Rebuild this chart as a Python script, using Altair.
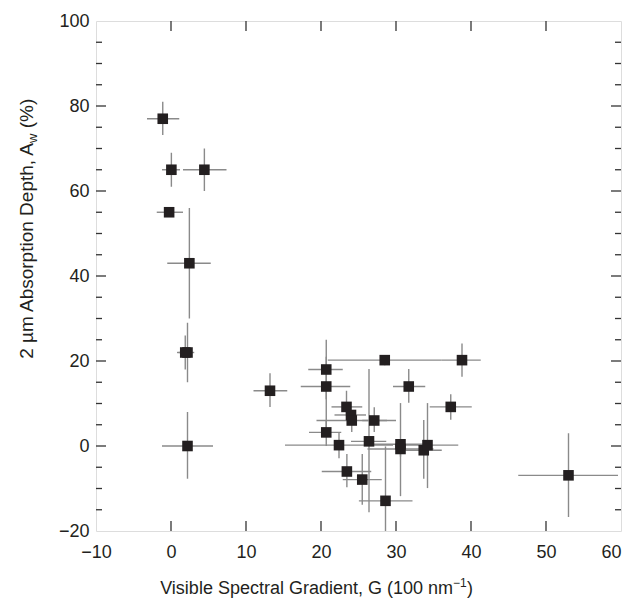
import altair as alt
import pandas as pd

# ---- data ----
g    = [-1.1, 0.05, 4.45, -0.25, 2.45, 2.2, 1.9, 2.2, 13.2, 20.7, 20.7, 20.7, 22.4, 23.4, 24.0,
        24.1, 27.1, 26.4, 28.5, 38.8, 31.7, 37.3, 30.6, 30.6, 33.7, 34.2, 23.45, 25.5, 28.6, 53.0]
aw   = [77, 65, 65, 55, 43, 22, 22, 0, 13, 18, 14, 3.2, 0.2, 9.2, 7.3,
        6.0, 6.0, 1.1, 20.2, 20.2, 14, 9.2, 0.4, -0.7, -1.0, 0.2, -6.0, -7.9, -12.9, -6.9]
g_lo = [-3.2, -1.2, 1.6, -1.9, -0.5, 0.8, 1.0, -1.2, 11.0, 18.3, 17.3, 18.4, 15.2, 21.4, 21.8,
        19.4, 25.5, 24.0, 20.9, 36.1, 29.6, 34.5, 26.2, 26.2, 31.0, 30.7, 20.1, 22.9, 25.05, 46.3]
g_hi = [1.1, 1.2, 7.4, 1.6, 5.3, 3.1, 2.6, 5.6, 15.5, 22.9, 23.9, 22.7, 29.6, 25.5, 26.0,
        28.8, 30.0, 28.7, 36.1, 41.3, 33.9, 40.1, 34.8, 35.0, 36.1, 38.3, 26.7, 28.1, 32.2, 59.6]
a_lo = [73.2, 61, 60, 54, 30, 15, 18, -7.7, 9.2, 11, 3, 0, -2.9, 7, 6,
        3.3, 3.3, -15.6, 19, 16.3, 10.2, 6.2, -11.8, -2.5, -7.7, -9.9, -9.7, -13.8, -26, -16.7]
a_hi = [81, 69, 70, 56, 56, 29, 26, 8, 17.1, 25, 21, 6, 3.2, 13, 8.5,
        8.5, 9.1, 18.1, 21.4, 24.1, 18.1, 12.2, 10.1, 1.1, 6.1, 10.1, -1.9, -1.9, -0.1, 3.0]

x_ticks = [-10, 0, 10, 20, 30, 40, 50, 60]
y_ticks = [-20, 0, 20, 40, 60, 80, 100]
x_major_inner = [0, 10, 20, 30, 40, 50]
y_major_inner = [0, 20, 40, 60, 80]
y_minor = [-15, -10, -5, 5, 10, 15, 25, 30, 35, 45, 50, 55, 65, 70, 75, 85, 90, 95]

y_title_main = "2 µm Absorption Depth, A"
y_title_sub = "w"
y_title_end = "(%)"
x_title_main = "Visible Spectral Gradient, G (100 nm"
x_title_sup = "−1"
x_title_end = ")"

W, H = 525, 510
FONT = "Liberation Sans"
INK = "#231f20"
ERR = "#8a8a8a"
AX = "#333333"

df = pd.DataFrame({"g": g, "aw": aw, "g_lo": g_lo, "g_hi": g_hi, "a_lo": a_lo, "a_hi": a_hi})

xs = alt.Scale(domain=[-10, 60], nice=False, zero=False)
ys = alt.Scale(domain=[-20, 100], nice=False, zero=False)

x_axis = alt.Axis(values=x_ticks, ticks=False, domain=False, grid=False, title=None,
                  labelFont=FONT, labelFontSize=18, labelColor=INK, labelPadding=12,
                  labelFlush=False, labelOverlap=False,
                  labelAlign={"condition": {"test": "datum.value >= 60", "value": "right"},
                              "value": "center"})
y_axis = alt.Axis(values=y_ticks, ticks=False, domain=False, grid=False, title=None,
                  labelFont=FONT, labelFontSize=18, labelColor=INK, labelPadding=7,
                  labelFlush=False, labelOverlap=False)

base = alt.Chart(df)

err_x = base.mark_rule(color=ERR, strokeWidth=1.4, clip=True).encode(
    x=alt.X("g_lo:Q", scale=xs, axis=x_axis), x2="g_hi:Q",
    y=alt.Y("aw:Q", scale=ys, axis=y_axis))
err_y = base.mark_rule(color=ERR, strokeWidth=1.4, clip=True).encode(
    x=alt.X("g:Q", scale=xs), y=alt.Y("a_lo:Q", scale=ys), y2="a_hi:Q")
pts = base.mark_square(size=112, color=INK, opacity=1, filled=True).encode(
    x=alt.X("g:Q", scale=xs), y=alt.Y("aw:Q", scale=ys))

xt = alt.Chart(pd.DataFrame({"v": x_major_inner}))
bot_ticks = xt.mark_rule(color=AX, strokeWidth=1.3).encode(
    x=alt.X("v:Q", scale=xs), y=alt.value(H), y2=alt.value(H - 10))
top_ticks = xt.mark_rule(color=AX, strokeWidth=1.3).encode(
    x=alt.X("v:Q", scale=xs), y=alt.value(0), y2=alt.value(10))

yt = alt.Chart(pd.DataFrame({"v": y_major_inner}))
left_ticks = yt.mark_rule(color=AX, strokeWidth=1.3).encode(
    y=alt.Y("v:Q", scale=ys), x=alt.value(0), x2=alt.value(10))
right_ticks = yt.mark_rule(color=AX, strokeWidth=1.3).encode(
    y=alt.Y("v:Q", scale=ys), x=alt.value(W), x2=alt.value(W - 10))

ym = alt.Chart(pd.DataFrame({"v": y_minor}))
left_minor = ym.mark_rule(color=AX, strokeWidth=1.3).encode(
    y=alt.Y("v:Q", scale=ys), x=alt.value(0), x2=alt.value(6))
right_minor = ym.mark_rule(color=AX, strokeWidth=1.3).encode(
    y=alt.Y("v:Q", scale=ys), x=alt.value(W), x2=alt.value(W - 6))


def txt(s, x, y, size, align, angle=0, baseline="alphabetic"):
    return alt.Chart(pd.DataFrame({"t": [s]})).mark_text(
        font=FONT, fontSize=size, color=INK, align=align, baseline=baseline, angle=angle
    ).encode(text="t:N", x=alt.value(x), y=alt.value(y))


# y-axis title (rotated) with subscript w
YJ = 122      # join point between "A" and "w" (plot coords)
YB = -63      # baseline x position
y_title = [
    txt(y_title_main, YB, YJ, 19, "right", 270),
    txt(y_title_sub, YB + 4, YJ, 13, "left", 270),
    txt(y_title_end, YB, YJ - 9.4 - 5.3, 19, "left", 270),
]
# x-axis title with superscript -1
XJ = 357
XB = 573
x_title = [
    txt(x_title_main, XJ, XB, 18, "right"),
    txt(x_title_sup, XJ, XB - 7, 12, "left"),
    txt(x_title_end, XJ + 14, XB, 18, "left"),
]

chart = alt.layer(
    err_x, err_y, pts, bot_ticks, top_ticks, left_ticks, right_ticks, left_minor, right_minor,
    *y_title, *x_title
).properties(
    width=W, height=H,
    autosize=alt.AutoSizeParams(type="none"),
    padding={"left": 88, "top": 13, "right": 2, "bottom": 67},
).configure_view(
    stroke=AX, strokeWidth=1.6
).configure(background="white")

chart.save("out.html", embed_options={"renderer": "svg", "actions": False})
